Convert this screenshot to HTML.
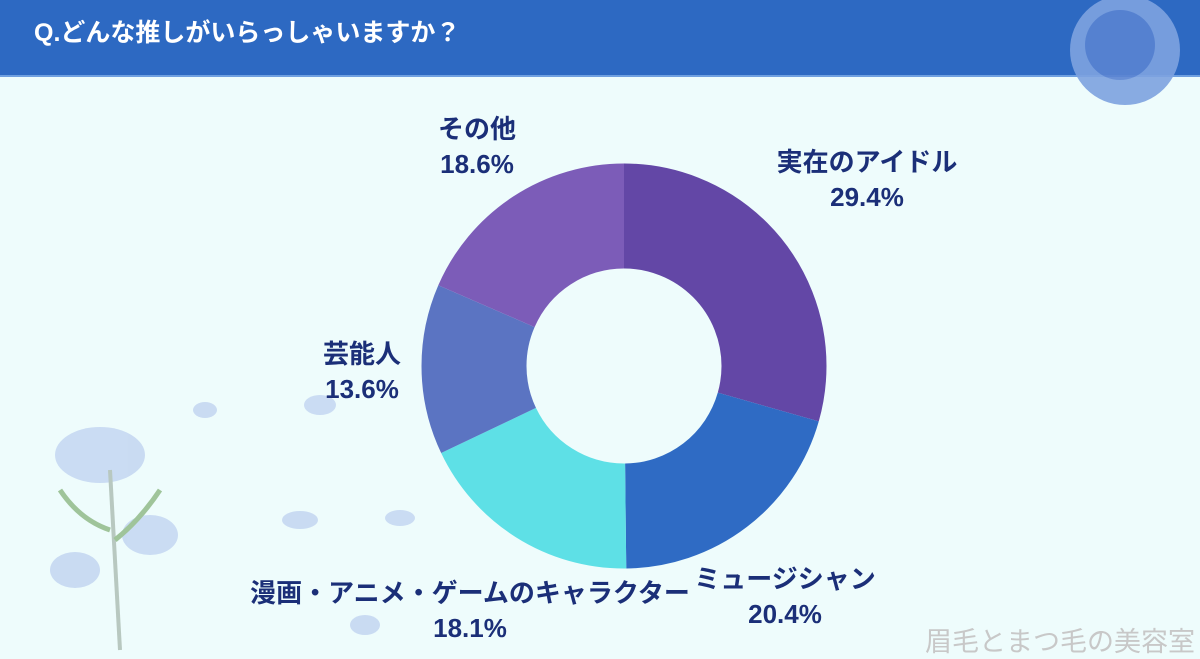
<!DOCTYPE html>
<html><head><meta charset="utf-8"><style>
html,body{margin:0;padding:0}
body{width:1200px;height:655px;background:#eefcfc;position:relative;overflow:hidden;font-family:"Liberation Sans","Noto Sans CJK JP",sans-serif}
.hdr{position:absolute;left:0;top:0;width:1200px;height:75px;background:#2d69c2;border-bottom:2px solid #6fa0e0}
.t{position:absolute;left:34px;top:18px;color:#fff;font-size:25px;font-weight:bold;white-space:nowrap;line-height:30px}
.l{position:absolute;color:#1b2f78;font-weight:bold;font-size:26px;text-align:center;white-space:nowrap;line-height:35px;transform:translateX(-50%)}
.wm{position:absolute;left:925px;top:620px;color:#c8c8c8;font-size:27px;white-space:nowrap}
</style></head><body>
<div class="hdr"><div class="t">Q.どんな推しがいらっしゃいますか？</div></div>
<svg width="1200" height="655" style="position:absolute;left:0;top:0">
<g transform="translate(624,366) rotate(-90)" fill="none" stroke-width="105">
<circle r="150" stroke="#6347a6" stroke-dasharray="277.09 942.48" stroke-dashoffset="0"/>
<circle r="150" stroke="#2f6bc4" stroke-dasharray="192.27 942.48" stroke-dashoffset="-277.09"/>
<circle r="150" stroke="#5ee0e6" stroke-dasharray="170.59 942.48" stroke-dashoffset="-469.36"/>
<circle r="150" stroke="#5b74c2" stroke-dasharray="128.18 942.48" stroke-dashoffset="-639.95"/>
<circle r="150" stroke="#7c5cb8" stroke-dasharray="174.35 942.48" stroke-dashoffset="-768.13"/>
</g>
<g fill="#c5d8f2" opacity="0.9">
<circle cx="1125" cy="50" r="55" fill="#7ea3e0"/>
<circle cx="1120" cy="45" r="35" fill="#5a84d2"/>
<ellipse cx="100" cy="455" rx="45" ry="28"/>
<ellipse cx="150" cy="535" rx="28" ry="20"/>
<ellipse cx="75" cy="570" rx="25" ry="18"/>
<ellipse cx="205" cy="410" rx="12" ry="8"/>
<ellipse cx="320" cy="405" rx="16" ry="10"/>
<ellipse cx="300" cy="520" rx="18" ry="9"/>
<ellipse cx="400" cy="518" rx="15" ry="8"/>
<ellipse cx="365" cy="625" rx="15" ry="10"/>
</g>
<path d="M110 470 L120 650" stroke="#b8c8c0" stroke-width="4"/>
<path d="M60 490 Q80 520 110 530 M160 490 Q140 520 115 540" stroke="#9fc49a" stroke-width="5" fill="none"/>
</svg>
<div class="l" style="left:867px;top:145px">実在のアイドル<br>29.4%</div>
<div class="l" style="left:785px;top:562px">ミュージシャン<br>20.4%</div>
<div class="l" style="left:470px;top:576px">漫画・アニメ・ゲームのキャラクター<br>18.1%</div>
<div class="l" style="left:362px;top:337px">芸能人<br>13.6%</div>
<div class="l" style="left:477px;top:112px">その他<br>18.6%</div>
<div class="wm">眉毛とまつ毛の美容室</div>
</body></html>
